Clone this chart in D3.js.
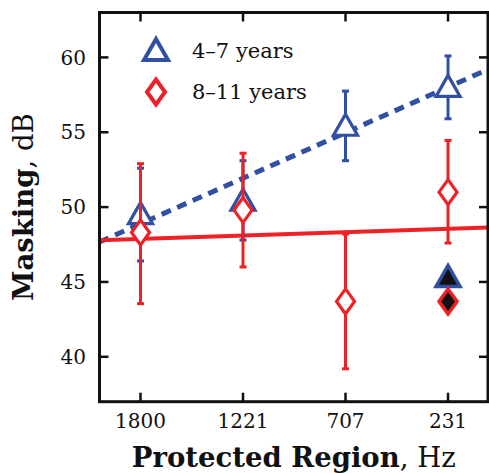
<!DOCTYPE html>
<html><head><meta charset="utf-8">
<script src="https://cdn.jsdelivr.net/npm/d3@7"></script>
<style>body{margin:0;background:#fff}svg{display:block}</style>
</head><body>
<svg id="c" width="489" height="473"></svg>
<script>
const categories = ["1800", "1221", "707", "231"];
const yTicks = [40, 45, 50, 55, 60];
const seriesNames = ["4–7 years", "8–11 years"];
const young = [49.5, 50.4, 55.4, 58.0];
const youngLo = [46.4, 47.8, 53.1, 55.9];
const youngHi = [52.6, 53.1, 57.75, 60.1];
const older = [48.3, 49.8, 43.7, 51.0];
const olderLo = [43.55, 46.0, 39.2, 47.6];
const olderHi = [52.9, 53.6, 48.2, 54.45];
const filledYoung = [45.3];
const filledOlder = [43.7];
const filledAt = ["231"];
const youngFit = [47.67, 59.2];   // values at the left and right plot edges
const olderFit = [47.78, 48.64];

const blue = "#3150a2", red = "#ee2127";
const W = 489, H = 473;
const m = {l: 99.5, r: 1, t: 12.5, b: 71.3};
const svg = d3.select("#c");
const x = d3.scaleLinear().domain([-0.4, 3.39]).range([m.l, W - m.r]);
const y = d3.scaleLinear().domain([37, 63]).range([H - m.b, m.t]);
const xi = c => x(categories.indexOf(c));
const font = "'DejaVu Serif', 'Liberation Serif', serif";

// fit lines
const dom = x.domain();
const line = d3.line().x(d => x(d[0])).y(d => y(d[1]));
svg.append("path").attr("d", line([[dom[0], youngFit[0]], [dom[1], youngFit[1]]]))
  .attr("stroke", blue).attr("stroke-width", 5).attr("stroke-dasharray", "10,7").attr("fill", "none");
svg.append("path").attr("d", line([[dom[0], olderFit[0]], [dom[1], olderFit[1]]]))
  .attr("stroke", red).attr("stroke-width", 4).attr("fill", "none");

const tri = "M0,-12 L12,9 L-12,9 Z";
const dia = "M0,-12.5 L9,0 L0,12.5 L-9,0 Z";

function drawSeries(vals, lo, hi, color, shape) {
  const g = svg.append("g");
  categories.forEach((c, i) => {
    const cx = xi(c);
    g.append("line").attr("x1", cx).attr("x2", cx).attr("y1", y(lo[i])).attr("y2", y(hi[i]))
      .attr("stroke", color).attr("stroke-width", 3);
    [lo[i], hi[i]].forEach(v => g.append("line").attr("x1", cx - 3.5).attr("x2", cx + 3.5)
      .attr("y1", y(v)).attr("y2", y(v)).attr("stroke", color).attr("stroke-width", 3));
    g.append("path").attr("d", shape).attr("transform", `translate(${cx},${y(vals[i])})`)
      .attr("fill", "#fff").attr("stroke", color).attr("stroke-width", 3.2);
  });
}
drawSeries(young, youngLo, youngHi, blue, tri);
drawSeries(older, olderLo, olderHi, red, dia);

filledAt.forEach((c, i) => {
  svg.append("path").attr("d", tri).attr("transform", `translate(${xi(c)},${y(filledYoung[i])})`)
    .attr("fill", "#111").attr("stroke", blue).attr("stroke-width", 3.5);
  svg.append("path").attr("d", dia).attr("transform", `translate(${xi(c)},${y(filledOlder[i])})`)
    .attr("fill", "#111").attr("stroke", red).attr("stroke-width", 3.5);
});

// frame and ticks
const x0 = m.l, x1 = W - m.r, y0 = m.t, y1 = H - m.b;
svg.append("rect").attr("x", x0).attr("y", y0).attr("width", x1 - x0).attr("height", y1 - y0)
  .attr("fill", "none").attr("stroke", "#111").attr("stroke-width", 3);
const tk = 9;
categories.forEach(c => {
  const cx = xi(c);
  svg.append("line").attr("x1", cx).attr("x2", cx).attr("y1", y1).attr("y2", y1 - tk).attr("stroke", "#111").attr("stroke-width", 2.5);
  svg.append("line").attr("x1", cx).attr("x2", cx).attr("y1", y0).attr("y2", y0 + tk).attr("stroke", "#111").attr("stroke-width", 2.5);
  svg.append("text").attr("x", cx).attr("y", 428).attr("text-anchor", "middle")
    .attr("font-family", font).attr("font-size", 20).attr("fill", "#111").text(c);
});
yTicks.forEach(v => {
  const cy = y(v);
  svg.append("line").attr("x1", x0).attr("x2", x0 + tk).attr("y1", cy).attr("y2", cy).attr("stroke", "#111").attr("stroke-width", 2.5);
  svg.append("line").attr("x1", x1).attr("x2", x1 - tk).attr("y1", cy).attr("y2", cy).attr("stroke", "#111").attr("stroke-width", 2.5);
  svg.append("text").attr("x", 86).attr("y", cy).attr("dy", "0.36em").attr("text-anchor", "end")
    .attr("font-family", font).attr("font-size", 20).attr("fill", "#111").text(v);
});

// legend
const leg = [[tri, blue], [dia, red]];
leg.forEach((d, i) => {
  const ly = 51 + i * 41;
  svg.append("path").attr("d", d[0]).attr("transform", `translate(156,${ly})`)
    .attr("fill", "#fff").attr("stroke", d[1]).attr("stroke-width", 4);
  svg.append("text").attr("x", 192).attr("y", ly + 6.5).attr("font-family", font)
    .attr("font-size", 21).attr("fill", "#111").text(seriesNames[i]);
});

// axis labels
const xl = svg.append("text").attr("x", (x0 + x1) / 2).attr("y", 467).attr("text-anchor", "middle")
  .attr("font-family", font).attr("font-size", 27.5).attr("fill", "#111");
xl.append("tspan").attr("font-weight", "bold").text("Protected Region");
xl.append("tspan").text(", Hz");
const yl = svg.append("text").attr("transform", `translate(33,${(y0 + y1) / 2}) rotate(-90)`)
  .attr("text-anchor", "middle").attr("font-family", font).attr("font-size", 27.5).attr("fill", "#111");
yl.append("tspan").attr("font-weight", "bold").text("Masking");
yl.append("tspan").text(", dB");
</script>
</body></html>
